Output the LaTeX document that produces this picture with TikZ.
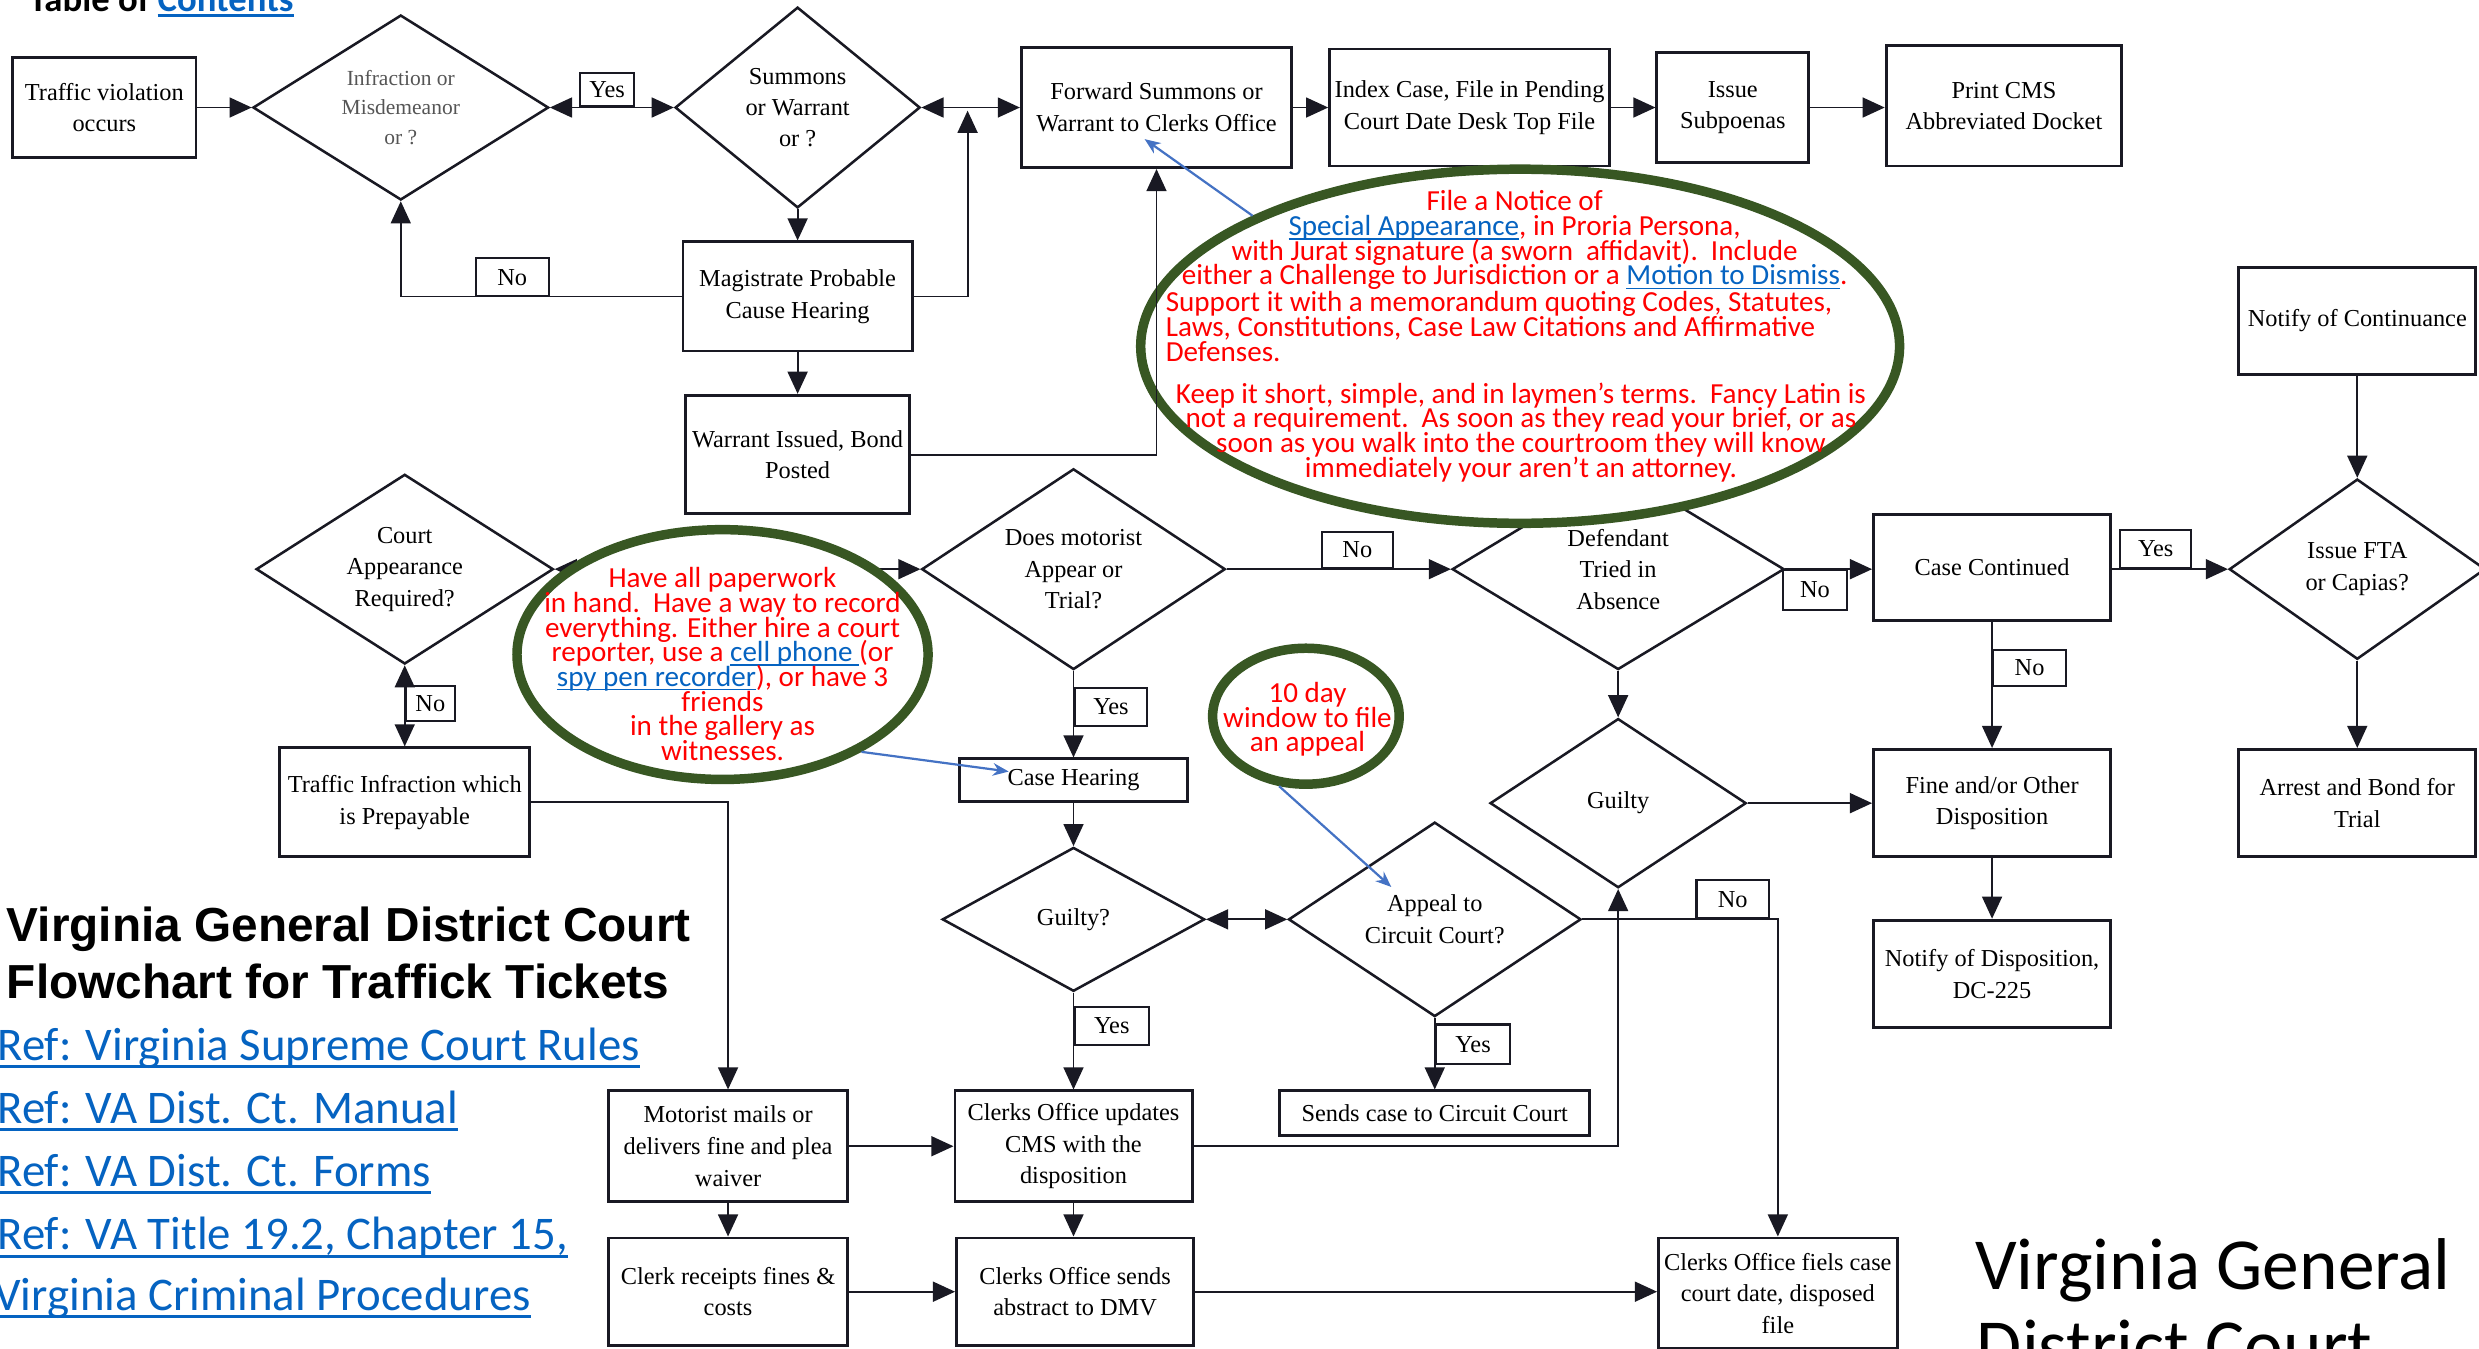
\documentclass[tikz,border=0pt]{standalone}
\usepackage{fontspec}
\setmainfont{Liberation Serif}
\newfontfamily\calfont{Carlito}
\newfontfamily\arialfont{Liberation Sans}
\usetikzlibrary{shapes.geometric,arrows.meta,calc}
\definecolor{ringgreen}{RGB}{56,87,35}
\definecolor{linkblue}{RGB}{5,99,193}
\definecolor{arrowblue}{RGB}{68,114,196}
\definecolor{linecol}{RGB}{25,25,35}
\definecolor{graytext}{RGB}{85,85,85}
\newcommand\ulc[3]{{\setbox0\hbox{#3}\rlap{\rule[-#1]{\wd0}{#2}}\box0}}
\newcommand\lnk[1]{\textcolor{linkblue}{\ulc{1.3pt}{0.45pt}{#1}}}
\newcommand\boxfnt{\fontsize{7.7}{10}\selectfont}
\newcommand\notefnt{\calfont\fontsize{9.2}{7.8}\selectfont\lineskiplimit=-20pt\lineskip=0pt\relax}
\begin{document}
\begin{tikzpicture}[x=0.5pt,y=-0.5pt,
  box/.style={draw=linecol, line width=0.9pt, align=center, inner sep=0pt, font=\boxfnt},
  dia/.style={draw=linecol, diamond, line width=0.8pt, align=center, inner sep=0pt, font=\boxfnt},
  lbl/.style={draw=linecol, line width=0.7pt, inner sep=0pt, font=\boxfnt},
  conn/.style={draw=linecol, line width=0.6pt, -{Triangle[length=7pt,width=6.3pt]}},
  biconn/.style={draw=linecol, line width=0.6pt, {Triangle[length=7pt,width=6.3pt]}-{Triangle[length=7pt,width=6.3pt]}},
  ring/.style={ellipse, draw=ringgreen, line width=3pt, fill=white, inner sep=0pt},
  note/.style={text=red, font=\notefnt, inner sep=0pt},
  barrow/.style={draw=arrowblue, line width=0.7pt, -{Stealth[length=5pt,width=4pt]}},
  reflink/.style={text=linkblue, font=\calfont\fontsize{14.8}{18}\selectfont, inner sep=0pt, anchor=base west},
  ttl/.style={font=\arialfont\bfseries\fontsize{15.1}{18}\selectfont, inner sep=0pt, anchor=base west},
  big/.style={font=\calfont\fontsize{23.2}{28}\selectfont, inner sep=0pt, anchor=base west}
]
\fill[white] (0,0) rectangle (1568,853);
\useasboundingbox (0,0) rectangle (1568,853);

% top row
\node[box, minimum width=58pt, minimum height=31.5pt] (tv) at (66,68) {Traffic violation\\occurs};
\node[dia, aspect=1.6, minimum width=93.5pt, minimum height=58.5pt, text=graytext, font=\fontsize{6.8}{9.25}\selectfont] (d1) at (253.5,68) {Infraction or\\Misdemeanor\\or ?};
\node[dia, aspect=1.22, minimum width=77.5pt, minimum height=63.5pt, font=\fontsize{7.7}{9.75}\selectfont] (d2) at (504.5,68) {Summons\\or Warrant\\or ?};
\node[box, minimum width=85.5pt, minimum height=38pt] (fwd) at (731.5,68) {Forward Summons or\\Warrant to Clerks Office};
\node[box, minimum width=88.5pt, minimum height=37pt] (idx) at (929.5,68) {Index Case, File in Pending\\Court Date Desk Top File};
\node[box, minimum width=48pt, minimum height=35pt] (sub) at (1096,68) {Issue\\Subpoenas};
\node[box, minimum width=74.5pt, minimum height=38pt] (prt) at (1267.5,67) {Print CMS\\Abbreviated Docket};
\node[box, minimum width=72.5pt, minimum height=34.5pt] (mag) at (504.5,187.5) {Magistrate Probable\\Cause Hearing};
\node[box, minimum width=71pt, minimum height=37.5pt] (war) at (504.5,287.5) {Warrant Issued, Bond\\Posted};

% middle
\node[dia, aspect=1.57, minimum width=94pt, minimum height=60pt] (crt) at (256,360) {Court\\Appearance\\Required?};
\node[box, minimum width=79pt, minimum height=34.5pt] (tip) at (256,507.5) {Traffic Infraction which\\is Prepayable};
\node[dia, aspect=1.51, minimum width=96pt, minimum height=63.5pt] (dm) at (679,360) {Does motorist\\Appear or\\Trial?};
\node[box, minimum width=72pt, minimum height=13.5pt] (ch) at (679,493.5) {Case Hearing};
\node[dia, aspect=1.82, minimum width=83pt, minimum height=45.5pt] (g1) at (679,581.5) {Guilty?};
\node[dia, aspect=1.5, minimum width=92.5pt, minimum height=61.5pt] (ap) at (907.5,581.5) {Appeal to\\Circuit Court?};
\node[box, minimum width=98pt, minimum height=14pt] (sc) at (907.5,704) {Sends case to Circuit Court};
\node[dia, aspect=1.65, minimum width=105pt, minimum height=63.5pt] (def) at (1023.5,360) {Defendant\\Tried in\\Absence};
\node[dia, aspect=1.51, minimum width=81pt, minimum height=53.5pt] (g2) at (1023.5,508) {Guilty};
\node[box, minimum width=75pt, minimum height=33.5pt] (cc) at (1260,359) {Case Continued};
\node[box, minimum width=75pt, minimum height=34pt] (fine) at (1260,508) {Fine and/or Other\\Disposition};
\node[box, minimum width=75pt, minimum height=34pt] (nod) at (1260,616) {Notify of Disposition,\\DC-225};
\node[box, minimum width=75pt, minimum height=34pt] (noc) at (1491,203) {Notify of Continuance};
\node[dia, aspect=1.42, minimum width=81pt, minimum height=57pt] (fta) at (1491,360) {Issue FTA\\or Capias?};
\node[box, minimum width=75pt, minimum height=34pt] (arr) at (1491,508) {Arrest and Bond for\\Trial};

% bottom
\node[box, minimum width=75.5pt, minimum height=35pt] (mm) at (460.5,725) {Motorist mails or\\delivers fine and plea\\waiver};
\node[box, minimum width=75pt, minimum height=35pt] (cu) at (679,725) {Clerks Office updates\\CMS with the\\disposition};
\node[box, minimum width=75.5pt, minimum height=34pt] (cr) at (460.5,817) {Clerk receipts fines \&\\costs};
\node[box, minimum width=75pt, minimum height=34pt] (cs) at (680,817) {Clerks Office sends\\abstract to DMV};
\node[box, minimum width=75.5pt, minimum height=35pt] (cf) at (1124.5,818) {Clerks Office fiels case\\court date, disposed\\file};

% labels
\node[lbl, minimum width=17pt, minimum height=10.5pt, anchor=south] (yes1) at (384,68) {Yes};
\node[lbl, minimum width=23pt, minimum height=12pt, anchor=south] (no1) at (324,188) {No};
\node[lbl, minimum width=15.5pt, minimum height=11pt, anchor=west] (no2) at (256,445) {No};
\node[lbl, minimum width=22.5pt, minimum height=11.5pt, anchor=south] (no3) at (858.5,360) {No};
\node[lbl, minimum width=23pt, minimum height=12pt, anchor=west] (yes2) at (679,447) {Yes};
\node[lbl, minimum width=23.5pt, minimum height=12pt, anchor=west] (yes3) at (679,649) {Yes};
\node[lbl, minimum width=23.5pt, minimum height=12.5pt, anchor=west] (yes4) at (907.5,660.5) {Yes};
\node[lbl, minimum width=23pt, minimum height=12pt, anchor=south] (no4) at (1096,581.5) {No};
\node[lbl, minimum width=20pt, minimum height=12.5pt, anchor=north] (no5) at (1148,360) {No};
\node[lbl, minimum width=22.5pt, minimum height=12pt, anchor=south] (yes5) at (1363.5,360) {Yes};
\node[lbl, minimum width=23pt, minimum height=11.5pt, anchor=west] (no6) at (1260,422.5) {No};

% connectors
\coordinate (j1) at (612,70);
\draw[conn] (tv) -- (d1);
\draw[biconn] (d1) -- (d2);
\draw[biconn] (d2) -- (fwd);
\draw[conn] (mag.east) -| (j1);
\draw[conn] (fwd) -- (idx);
\draw[conn] (idx) -- (sub);
\draw[conn] (sub.east) -- (sub.east -| prt.west);
\draw[conn] (d2) -- (mag);
\draw[conn] (mag.west) -| (d1.south);
\draw[conn] (mag) -- (war);
\draw[biconn] (crt) -- (dm);
\draw[biconn] (crt) -- (tip);
\draw[conn] (tip.east) -| (mm.north);
\draw[conn] (dm) -- (def);
\draw[conn] (dm) -- (ch);
\draw[conn] (ch) -- (g1);
\draw[biconn] (g1) -- (ap);
\draw[conn] (g1) -- (cu);
\draw[conn] (ap) -- (sc);
\draw[conn] (ap.east) -| (cf.north);
\draw[conn] (cu.east) -| (g2.south);
\draw[conn] (def.east) -- (def.east -| cc.west);
\draw[conn] (def) -- (g2);
\draw[conn] (g2) -- (fine);
\draw[conn] (cc.east |- fta.west) -- (fta.west);
\draw[conn] (cc) -- (fine);
\draw[conn] (fine) -- (nod);
\draw[conn] (noc) -- (fta);
\draw[conn] (fta) -- (arr);
\draw[conn] (mm) -- (cu);
\draw[conn] (mm) -- (cr);
\draw[conn] (cu.south) -- (cu.south |- cs.north);
\draw[conn] (cr) -- (cs);
\draw[conn] (cs.east) -- (cs.east -| cf.west);

% callouts
\node[ring, minimum width=240pt, minimum height=112pt] (e1) at (961.5,219) {};
\node[ring, minimum width=130pt, minimum height=79pt] (e2) at (457,414) {};
\node[ring, minimum width=59pt, minimum height=43pt] (e3) at (826,453) {};
\draw[conn] (war.east) -| (fwd.south);

\node[note, align=center] (n1) at (958,152) {File a Notice of\\\lnk{Special Appearance}, in Proria Persona,\\with Jurat signature (a sworn\ \ affidavit).\ \ Include\\either a Challenge to Jurisdiction or a \lnk{Motion to Dismiss}.};
\node[note, align=left, anchor=west] (n2) at (737,206.5) {Support it with a memorandum quoting Codes, Statutes,\\Laws, Constitutions, Case Law Citations and Affirmative\\Defenses.};
\node[note, align=center] (n3) at (962,273.5) {Keep it short, simple, and in laymen’s terms.\ \ Fancy Latin is\\not a requirement.\ \ As soon as they read your brief, or as\\soon as you walk into the courtroom they will know\\immediately your aren’t an attorney.};
\node[note, align=center] (n4) at (457,420) {Have all paperwork\\in hand.\ \ Have a way to record\\everything. Either hire a court\\reporter, use a \lnk{cell phone }(or\\\lnk{spy pen recorder}), or have 3\\friends\\in the gallery as\\witnesses.};
\node[note, align=center] (n5) at (827,455) {10 day\\window to file\\an appeal};

\coordinate (t1) at (724,88);
\coordinate (t2) at (638,488);
\coordinate (t3) at (880,561);
\draw[barrow] (e1.154) -- (t1);
\draw[barrow] (e2.-35) -- (t2);
\draw[barrow] (e3.-111) -- (t3);

% texts
\node[anchor=base west, inner sep=0pt, font=\calfont\bfseries\fontsize{11.6}{14}\selectfont] (toc) at (18,7.4) {Table of \textcolor{linkblue}{\ulc{1.6pt}{0.8pt}{Contents}}};
\node[ttl] (ttl1) at (4,595.6) {Virginia General District Court};
\node[ttl] (ttl2) at (4,631.3) {Flowchart for Traffick Tickets};
\node[reflink] (r1) at (-2,670.5) {\ulc{2.4pt}{0.9pt}{Ref: Virginia Supreme Court Rules}};
\node[reflink] (r2) at (-2,710.5) {\ulc{2.4pt}{0.9pt}{Ref: VA Dist. Ct. Manual}};
\node[reflink] (r3) at (-2,750.6) {\ulc{2.4pt}{0.9pt}{Ref: VA Dist. Ct. Forms}};
\node[reflink] (r4) at (-2,790.6) {\ulc{2.4pt}{0.9pt}{Ref: VA Title 19.2, Chapter 15,}};
\node[reflink] (r5) at (-4,828.6) {\ulc{2.4pt}{0.9pt}{Virginia Criminal Procedures}};
\node[big] (vg1) at (1249,815.3) {Virginia General};
\node[big] (vg2) at (1250,867) {District Court};
\end{tikzpicture}
\end{document}
